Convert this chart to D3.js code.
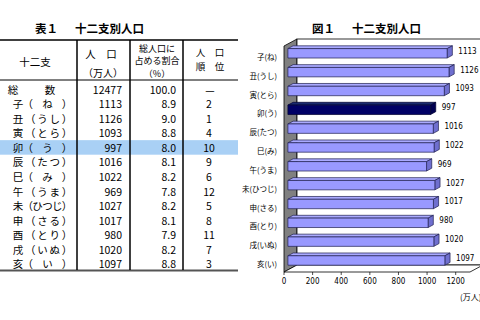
<!DOCTYPE html>
<html lang="ja">
<head>
<meta charset="UTF-8">
<script src="https://d3js.org/d3.v7.min.js"></script>
<style>
  body { margin: 0; background: #fff; }
  text { font-family: "Noto Sans CJK JP", sans-serif; fill: #000; }
</style>
</head>
<body>
<svg id="fig" width="480" height="320"></svg>
<script>
// data
const categories = ["子","丑","寅","卯","辰","巳","午","未","申","酉","戌","亥"];
const tableLabels = ["子（　ね　）","丑（うし）","寅（とら）","卯（　う　）","辰（たつ）","巳（　み　）",
                     "午（うま）","未（ひつじ）","申（さる）","酉（とり）","戌（いぬ）","亥（　い　）"];
const chartLabels = ["子(ね)","丑(うし)","寅(とら)","卯(う)","辰(たつ)","巳(み)",
                     "午(うま)","未(ひつじ)","申(さる)","酉(とり)","戌(いぬ)","亥(い)"];
const population = [1113,1126,1093,997,1016,1022,969,1027,1017,980,1020,1097];
const share = [8.9,9.0,8.8,8.0,8.1,8.2,7.8,8.2,8.1,7.9,8.2,8.8];
const rank = [2,1,4,10,9,6,12,5,8,11,7,3];
const total = 12477, totalShare = 100.0;
const highlight = "卯";
const xTicks = [0,200,400,600,800,1000,1200];

const svg = d3.select("#fig");
svg.append("rect").attr("width",480).attr("height",320).attr("fill","#fff");

// ---------- table ----------
const tbl = svg.append("g");
const rowKeys = ["総数"].concat(categories);
const ry = d3.scaleBand().domain(rowKeys).range([82,271]);

tbl.append("text").attr("x",35).attr("y",33).attr("font-size",11.5).attr("font-weight","bold").text("表１");
tbl.append("text").attr("x",75).attr("y",33).attr("font-size",11.5).attr("font-weight","bold").text("十二支別人口");

// highlighted row
tbl.append("rect").attr("x",0).attr("y",ry(highlight)).attr("width",238).attr("height",ry.bandwidth())
  .attr("fill","#a9d0f5");

tbl.append("line").attr("x1",0).attr("x2",238).attr("y1",40).attr("y2",40).attr("stroke","#000").attr("stroke-width",1.5);
tbl.append("line").attr("x1",0).attr("x2",238).attr("y1",80).attr("y2",80).attr("stroke","#000").attr("stroke-width",1);
tbl.append("line").attr("x1",0).attr("x2",238).attr("y1",270.5).attr("y2",270.5).attr("stroke","#555").attr("stroke-width",2);
[77,130,183].forEach(x => {
  tbl.append("line").attr("x1",x).attr("x2",x).attr("y1",40).attr("y2",270).attr("stroke","#000").attr("stroke-width",1.5);
});

const fs = 10.5;
function htext(x, y, s, anchor, size) {
  tbl.append("text").attr("x",x).attr("y",y).attr("font-size",size || fs).attr("text-anchor",anchor || "middle")
    .attr("dominant-baseline","central").text(s);
}
htext(35,61,"十二支");
htext(101,53,"人　口");
htext(103,72,"（万人）", null, 10);
htext(157,48,"総人口に", null, 9);
htext(157,60.5,"占める割合", null, 9);
htext(157,73,"（%）", null, 9);
htext(210,52,"人　口", null, 9.5);
htext(210,66,"順　位", null, 9.5);

const cy = k => ry(k) + ry.bandwidth()/2;
htext(13, cy("総数"), "総");
htext(50, cy("総数"), "数");
htext(122, cy("総数"), String(total), "end");
htext(176, cy("総数"), totalShare.toFixed(1), "end");
htext(210, cy("総数"), "—");

categories.forEach((c, i) => {
  const chars = Array.from(tableLabels[i]);
  const step = 49 / (chars.length - 1);
  tbl.append("text")
    .attr("x", chars.map((_, j) => 18 + j*step).join(" "))
    .attr("y", cy(c)).attr("font-size",fs).attr("text-anchor","middle")
    .attr("dominant-baseline","central").text(tableLabels[i]);
  htext(122, cy(c), String(population[i]), "end");
  htext(176, cy(c), share[i].toFixed(1), "end");
  htext(209, cy(c), String(rank[i]));
});

// ---------- 3D bar chart ----------
const ch = svg.append("g");
ch.append("text").attr("x",312).attr("y",33).attr("font-size",11.5).attr("font-weight","bold").text("図１");
ch.append("text").attr("x",352).attr("y",33).attr("font-size",11.5).attr("font-weight","bold").text("十二支別人口");

const x = d3.scaleLinear().domain([0,1300]).range([284,470]);
const y = d3.scaleBand().domain(categories).range([46,272]).paddingInner(0.5).paddingOuter(0.25);
const dx = 13, dy = -7;            // depth of the plot box
const f0 = 0.3, f1 = 0.7;          // bar depth fractions
const top0 = 46, bot = 272;

// side wall, back wall, floor
ch.append("polygon")
  .attr("points",[[x(0),top0],[x(0)+dx,top0+dy],[x(0)+dx,bot+dy],[x(0),bot]].join(" "))
  .attr("fill","#808080").attr("stroke","#000").attr("stroke-width",0.8);
ch.append("rect").attr("x",x(0)+dx).attr("y",top0+dy).attr("width",x(1300)-x(0)).attr("height",bot-top0)
  .attr("fill","#fff").attr("stroke","#000").attr("stroke-width",0.8);
ch.append("polygon")
  .attr("points",[[x(0),bot],[x(1300),bot],[x(1300)+dx,bot+dy],[x(0)+dx,bot+dy]].join(" "))
  .attr("fill","#fff").attr("stroke","#000").attr("stroke-width",0.8);

// bars
const bw = y.bandwidth();
categories.forEach((c, i) => {
  const hi = c === highlight;
  const xa = x(0), xb = x(population[i]);
  const yt = y(c);
  const g = ch.append("g").attr("stroke", hi ? "#000030" : "#202050").attr("stroke-width",0.7)
    .attr("stroke-linejoin","round");
  g.append("polygon").attr("points",[
    [xa+dx*f0, yt+dy*f0],[xb+dx*f0, yt+dy*f0],[xb+dx*f1, yt+dy*f1],[xa+dx*f1, yt+dy*f1]].join(" "))
    .attr("fill", hi ? "#1a2a70" : "#aaaaff");
  g.append("polygon").attr("points",[
    [xb+dx*f0, yt+dy*f0],[xb+dx*f1, yt+dy*f1],[xb+dx*f1, yt+dy*f1+bw],[xb+dx*f0, yt+dy*f0+bw]].join(" "))
    .attr("fill", hi ? "#000050" : "#6f6fcf");
  g.append("rect").attr("x", xa+dx*f0).attr("y", yt+dy*f0).attr("width", xb-xa).attr("height", bw)
    .attr("fill", hi ? "#000066" : "#9999ff");
  ch.append("text").attr("x", xb+dx*f1+6).attr("y", yt+dy*f0+bw/2-2)
    .attr("dominant-baseline","central").attr("font-size",8)
    .style("font-family","'DejaVu Sans Condensed', 'Liberation Sans Narrow', sans-serif")
    .text(population[i]);
  ch.append("text").attr("x", 277).attr("y", yt+bw/2+1)
    .attr("dominant-baseline","central").attr("text-anchor","end").attr("font-size",7.5)
    .text(chartLabels[i]);
});

// x axis
xTicks.forEach(t => {
  ch.append("line").attr("x1",x(t)).attr("x2",x(t)).attr("y1",bot).attr("y2",bot+3).attr("stroke","#000").attr("stroke-width",0.7);
  ch.append("text").attr("x",x(t)).attr("y",281).attr("text-anchor","middle").attr("dominant-baseline","central")
    .attr("font-size",8).style("font-family","'DejaVu Sans Condensed', 'Liberation Sans Narrow', sans-serif")
    .text(t);
});
ch.append("text").attr("x",460).attr("y",296).attr("dominant-baseline","central").attr("font-size",8).text("(万人)");
</script>
</body>
</html>
